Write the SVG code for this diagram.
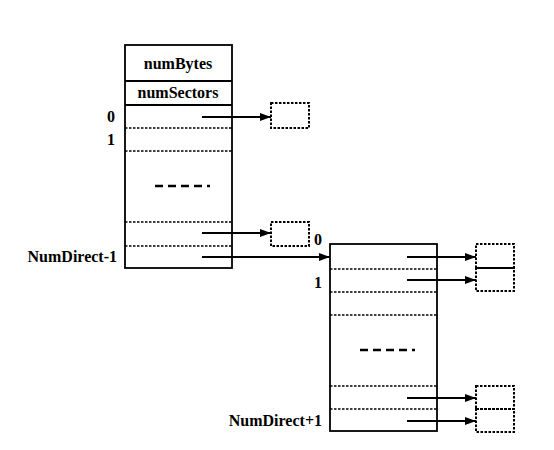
<svg xmlns="http://www.w3.org/2000/svg" width="554" height="450" viewBox="0 0 554 450">
<style>
.box{fill:none;stroke:#000;stroke-width:1.8}
.dot{fill:none;stroke:#000;stroke-width:1.5;stroke-dasharray:2.5,1.5}
.sec{fill:none;stroke:#000;stroke-width:2;stroke-dasharray:2.5,1.5}
.dash{stroke:#000;stroke-width:2.4;stroke-dasharray:8,5}
.arr{stroke:#000;stroke-width:1.8;fill:none;marker-end:url(#ah)}
.t{font-family:'Liberation Serif','Times New Roman',serif;font-weight:bold;font-size:16px;fill:#000}
</style>
<defs>
<marker id="ah" viewBox="0 0 11 8" refX="11" refY="4" markerWidth="11" markerHeight="8" markerUnits="userSpaceOnUse" orient="auto">
<path d="M0,0 L11,4 L0,8 Z" fill="#000"/>
</marker>
</defs>
<rect width="554" height="450" fill="#fff"/>
<g id="inode">
<rect class="box" x="125" y="45" width="107" height="223"/>
<line class="box" x1="125" y1="81" x2="232" y2="81"/>
<line class="box" x1="125" y1="105" x2="232" y2="105"/>
<line class="dot" x1="125" y1="128" x2="232" y2="128"/>
<line class="dot" x1="125" y1="151" x2="232" y2="151"/>
<line class="dash" x1="155" y1="186" x2="210" y2="186"/>
<line class="dot" x1="125" y1="222" x2="232" y2="222"/>
<line class="dot" x1="125" y1="246" x2="232" y2="246"/>
<text class="t" x="178" y="69" text-anchor="middle">numBytes</text>
<text class="t" x="178" y="98" text-anchor="middle">numSectors</text>
<text class="t" x="111" y="122" text-anchor="middle">0</text>
<text class="t" x="111" y="145" text-anchor="middle">1</text>
<text class="t" x="117" y="262" text-anchor="end">NumDirect-1</text>
</g>
<g id="indirect">
<rect class="box" x="330" y="244" width="107" height="187"/>
<line class="dot" x1="330" y1="269" x2="437" y2="269"/>
<line class="dot" x1="330" y1="292" x2="437" y2="292"/>
<line class="dot" x1="330" y1="315" x2="437" y2="315"/>
<line class="dash" x1="360" y1="350" x2="415" y2="350"/>
<line class="dot" x1="330" y1="386" x2="437" y2="386"/>
<line class="dot" x1="330" y1="409" x2="437" y2="409"/>
<text class="t" x="318" y="245" text-anchor="middle">0</text>
<text class="t" x="318" y="288" text-anchor="middle">1</text>
<text class="t" x="322" y="426" text-anchor="end">NumDirect+1</text>
</g>
<g id="sectors">
<rect class="sec" x="271" y="103" width="38" height="25"/>
<rect class="sec" x="271" y="222" width="38" height="24"/>
<rect class="sec" x="476" y="244" width="38" height="24"/>
<rect class="sec" x="476" y="268" width="38" height="23"/>
<rect class="sec" x="476" y="386" width="38" height="23"/>
<rect class="sec" x="476" y="409" width="38" height="23"/>
</g>
<g id="connectors">
<line class="arr" x1="202" y1="117" x2="271" y2="117"/>
<line class="arr" x1="202" y1="233" x2="271" y2="233"/>
<line class="arr" x1="202" y1="257" x2="330" y2="257"/>
<line class="arr" x1="407" y1="257" x2="476" y2="257"/>
<line class="arr" x1="407" y1="280" x2="476" y2="280"/>
<line class="arr" x1="407" y1="398" x2="476" y2="398"/>
<line class="arr" x1="407" y1="421" x2="476" y2="421"/>
</g>
</svg>
